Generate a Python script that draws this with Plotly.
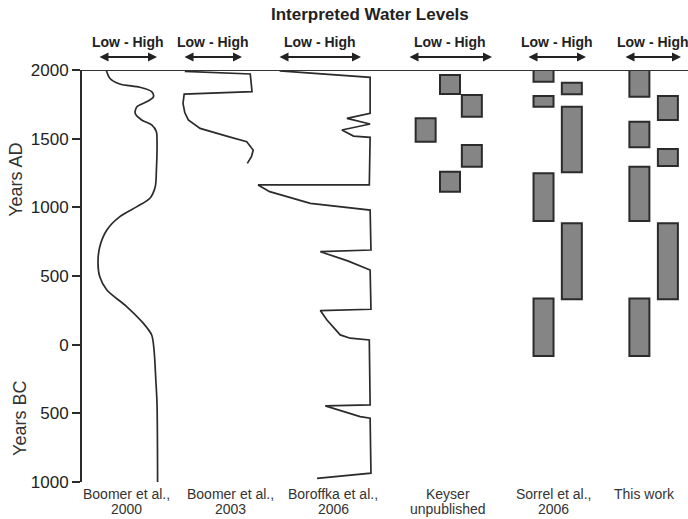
import plotly.graph_objects as go

# ---------------- data (years: positive = AD, negative = BC; level: 0 = low, 1 = high) ----------
boomer2000_years = [2000, 1940, 1898, 1874, 1842, 1806, 1770, 1733, 1685, 1636, 1600, 1551, 1490,
                    1272, 1150, 1066, 1005, 932, 835, 713, 592, 495, 398, 276, 155, 70, -39, -257,
                    -427, -1000]
boomer2000_level = [0.14, 0.20, 0.37, 0.71, 0.91, 0.94, 0.83, 0.66, 0.63, 0.74, 0.91, 0.99, 1.00,
                    0.99, 0.97, 0.88, 0.66, 0.37, 0.15, 0.03, 0.00, 0.03, 0.15, 0.49, 0.77, 0.91,
                    0.95, 0.98, 1.00, 1.01]

boomer2003_years = [1990, 1971, 1842, 1825, 1757, 1690, 1636, 1575, 1519, 1478, 1417, 1369, 1320]
boomer2003_level = [0.03, 1.14, 1.17, 0.02, 0.00, 0.03, 0.09, 0.29, 0.74, 1.08, 1.19, 1.16, 1.09]

boroffka_years = [1993, 1947, 1685, 1648, 1607, 1563, 1519, 1510, 1163, 1163, 1114, 1029, 980,
                  689, 677, 610, 544, 258, 248, 180, 71, 47, 34, -439, -446, -524, -536, -936, -973]
boroffka_level = [0.02, 1.11, 1.11, 0.83, 1.11, 0.77, 0.91, 1.11, 1.10, -0.24, -0.10, 0.39, 1.11,
                  1.12, 0.51, 0.84, 1.11, 1.12, 0.51, 0.59, 0.75, 0.87, 1.10, 1.11, 0.57, 0.99,
                  1.11, 1.12, 0.47]

keyser_start = [1964, 1818, 1648, 1454, 1260]
keyser_end = [1825, 1660, 1478, 1296, 1114]
keyser_level = [0.50, 0.76, 0.21, 0.76, 0.50]

sorrel_start = [2000, 1908, 1811, 1733, 1248, 884, 337]
sorrel_end = [1915, 1823, 1733, 1255, 900, 330, -83]
sorrel_level = [0.28, 0.76, 0.28, 0.76, 0.28, 0.76, 0.28]

thiswork_start = [2000, 1811, 1624, 1425, 1296, 884, 337]
thiswork_end = [1806, 1636, 1437, 1301, 900, 330, -83]
thiswork_level = [0.27, 0.77, 0.27, 0.77, 0.27, 0.77, 0.27]

panel_labels = [["Boomer et al.,", "2000"], ["Boomer et al.,", "2003"], ["Boroffka et al.,", "2006"],
                ["Keyser", "unpublished"], ["Sorrel et al.,", "2006"], ["This work", ""]]
tick_vals = [2000, 1500, 1000, 500, 0, -500, -1000]
tick_text = ["2000", "1500", "1000", "500", "0", "500", "1000"]

# ---------------- layout geometry (pixels) ----------------
W, H = 688, 519
ML, MR, MT, MB = 82, 0, 70, 37
PW = W - ML - MR
PH = H - MT - MB
# arrow (low..high) extents per panel and panel column bounds, in pixels
arrow_px = [(98, 157), (183, 242), (278, 361), (408, 492), (527, 586), (624, 681)]
col_px = [(82, 170), (170, 256), (256, 390), (390, 505), (505, 600), (600, 688)]
label_center_px = [126, 230, 333, 448, 553, 644]

FONT = "Liberation Sans, Arial, sans-serif"
INK = "#2b2b2b"

fig = go.Figure()

layout_axes = {}
for i, ((L, R), (a, b)) in enumerate(zip(arrow_px, col_px)):
    span = R - L
    name = "xaxis" if i == 0 else f"xaxis{i+1}"
    layout_axes[name] = dict(
        domain=[(a - ML) / PW, (b - ML) / PW],
        range=[(a - L) / span, (b - L) / span],
        visible=False, fixedrange=True, anchor="y",
    )

def xref(i):
    return "x" if i == 0 else f"x{i+1}"

curves = [(boomer2000_years, boomer2000_level), (boomer2003_years, boomer2003_level),
          (boroffka_years, boroffka_level)]
for i, (yrs, lv) in enumerate(curves):
    fig.add_trace(go.Scatter(x=lv, y=yrs, mode="lines", xaxis=xref(i), yaxis="y",
                             line=dict(color=INK, width=1.7, shape="spline" if i == 0 else "linear",
                                       smoothing=0.8),
                             showlegend=False, hoverinfo="skip"))

blocks = [(keyser_start, keyser_end, keyser_level), (sorrel_start, sorrel_end, sorrel_level),
          (thiswork_start, thiswork_end, thiswork_level)]
for k, (st, en, lv) in enumerate(blocks):
    i = k + 3
    L, R = arrow_px[i]
    fig.add_trace(go.Bar(x=lv, y=[s - e for s, e in zip(st, en)], base=en,
                         width=20 / (R - L), xaxis=xref(i), yaxis="y",
                         marker=dict(color="#858585", line=dict(color=INK, width=2)),
                         showlegend=False, hoverinfo="skip"))

ann = []
# title
ann.append(dict(text="<b>Interpreted Water Levels</b>", x=(370 - ML) / PW, y=(H - MB - 15) / PH,
                xref="paper", yref="paper", showarrow=False, font=dict(size=17, color="#222"),
                xanchor="center", yanchor="middle"))
for i in range(6):
    ar = xref(i)
    # Low - High labels
    ann.append(dict(text="<b>Low - High</b>", x=0.5, y=(H - MB - 42) / PH, xref=ar, yref="paper",
                    showarrow=False, font=dict(size=14, color="#222"), xanchor="center",
                    yanchor="middle"))
    # double arrows
    ann.append(dict(text="", x=1, y=(H - MB - 57) / PH, xref=ar, yref="paper",
                    ax=0, ay=0, axref=ar, ayref="pixel", showarrow=True, arrowhead=2,
                    arrowside="end+start", arrowwidth=1.8, arrowsize=1, arrowcolor="#222",
                    standoff=0, startstandoff=0))
    # bottom labels
    for j, line in enumerate(panel_labels[i]):
        if line:
            ann.append(dict(text=line, x=(label_center_px[i] - ML) / PW,
                            y=(H - MB - (494 + 15 * j)) / PH, xref="paper",
                            yref="paper", showarrow=False, font=dict(size=14, color="#333"),
                            xanchor="center", yanchor="middle"))
# y axis labels
ann.append(dict(text="Years AD", x=(16 - ML) / PW, y=1200, xref="paper", yref="y", textangle=-90,
                showarrow=False, font=dict(size=18, color="#333"), xanchor="center", yanchor="middle"))
ann.append(dict(text="Years BC", x=(20 - ML) / PW, y=-541, xref="paper", yref="y", textangle=-90,
                showarrow=False, font=dict(size=18, color="#333"), xanchor="center", yanchor="middle"))

fig.update_layout(
    width=W, height=H,
    margin=dict(l=ML, r=MR, t=MT, b=MB, pad=0),
    paper_bgcolor="white", plot_bgcolor="white",
    font=dict(family=FONT, color="#222"),
    barmode="overlay",
    showlegend=False,
    yaxis=dict(range=[-1000, 2000], tickvals=tick_vals, ticktext=tick_text,
               showline=True, linecolor=INK, linewidth=2, ticks="outside", ticklen=8,
               tickwidth=2, tickcolor=INK, showgrid=False, zeroline=False,
               tickfont=dict(size=17, color="#222"), fixedrange=True),
    annotations=ann,
    shapes=[dict(type="line", xref="paper", yref="y", x0=0, x1=1, y0=2000, y1=2000,
                 line=dict(color="#333", width=2), layer="above")],
    **layout_axes,
)

fig.write_html("out.html", config={"displayModeBar": False},
               post_script="document.body.style.margin='0';document.body.style.overflow='hidden';")
